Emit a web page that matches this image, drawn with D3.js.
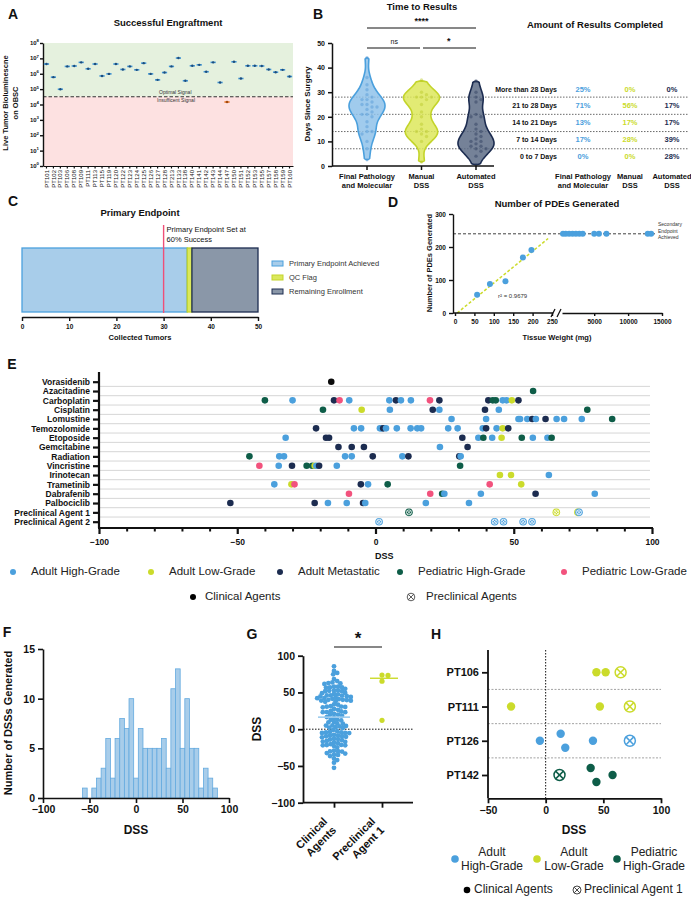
<!DOCTYPE html>
<html>
<head>
<meta charset="utf-8">
<script src="https://cdn.jsdelivr.net/npm/d3@7"></script>
<style>
  body { margin: 0; background: #fff; }
  svg { display: block; font-family: "Liberation Sans", Arial, Helvetica, sans-serif; }
</style>
</head>
<body>
<div id="chart"></div>
<script>
// ---------- data ----------
// A - engraftment
const engraftIds = ["PT101","PT102","PT103","PT106","PT108","PT109","PT111","PT113","PT115","PT119","PT120","PT122","PT123","PT124","PT125","PT126","PT127","PT128","PT213","PT133","PT138","PT140","PT141","PT142","PT143","PT144","PT147","PT150","PT151","PT152","PT153","PT155","PT157","PT158","PT159","PT160"];
const engraftSignal = [4.3e6,6.0e5,9.8e4,3.0e6,3.2e6,5.5e6,2.1e6,4.3e6,7.2e5,9.8e5,4.3e6,1.9e6,3.0e6,1.8e6,4.9e6,9.8e5,4.0e5,1.2e6,3.0e6,1.05e7,3.5e5,3.3e6,3.8e6,1.35e6,5.5e6,2.7e5,1.45e4,6.0e6,4.9e5,3.3e6,3.3e6,3.2e6,1.9e6,1.26e6,1.8e6,6.6e5];
const signalCutoff = 3.2e4;
const engraftTicks = [1, 10, 100, 1e3, 1e4, 1e5, 1e6, 1e7, 1e8];

// B - time to results
const timeGroups = [["Final Pathology", "and Molecular"], ["Manual", "DSS"], ["Automated", "DSS"]];
const daysPath = [2.5, 7, 10, 13, 14, 14, 16, 18, 20, 21, 21, 22, 23, 24, 24, 25, 25, 26, 27, 27, 28, 29, 31, 33, 36, 44];
const daysManual = [1.6, 10, 12, 13, 14, 14, 15, 17, 20, 22, 25, 27, 28, 28, 28, 29, 30, 35];
const daysAuto = [0.5, 4, 6, 7, 7, 8, 8, 9, 10, 10, 11, 12, 13, 14, 15, 17, 20, 20, 21, 26, 27, 28, 30, 34.6];
const dayCutoffs = [7, 14, 21, 28];
const dayTicks = [0, 10, 20, 30, 40, 50];
const rangeLabels = ["More than 28 Days", "21 to 28 Days", "14 to 21 Days", "7 to 14 Days", "0 to 7 Days"];
const rangeMid = [31, 24.5, 17.5, 10.5, 3.5];
const pctPath = ["25%", "71%", "13%", "17%", "0%"];
const pctManual = ["0%", "56%", "17%", "28%", "0%"];
const pctAuto = ["0%", "17%", "17%", "39%", "28%"];

// C - primary endpoint
const enrollLabels = ["Primary Endpoint Achieved", "QC Flag", "Remaining Enrollment"];
const enrollCounts = [35, 1, 14];
const enrollTicks = [0, 10, 20, 30, 40, 50];
const primaryTarget = 30;

// D - PDEs generated
const pdeWeightLow = [57, 90, 130, 175, 197];
const pdeCountLow = [55, 88, 96, 168, 191];
const pdeWeightHigh = [400, 800, 1300, 1800, 2300, 2800, 3300, 5000, 5700, 6800, 12900, 13400];
const pdeCountHigh = [240, 240, 240, 240, 240, 240, 240, 240, 240, 240, 240, 240];
const pdeTarget = 240;
const pdeTicksLow = [0, 50, 100, 150, 200, 250];
const pdeTicksHigh = [5000, 10000, 15000];
const pdeTicksY = [0, 100, 200, 300];

// E - DSS per drug
const drugNames = ["Vorasidenib","Azacitadine","Carboplatin","Cisplatin","Lomustine","Temozolomide","Etoposide","Gemcitabine","Radiation","Vincristine","Irinotecan","Trametinib","Dabrafenib","Palbociclib","Preclinical Agent 1","Preclinical Agent 2"];
const preclinicalDrugs = ["Preclinical Agent 1", "Preclinical Agent 2"];
const drugDss = [
  [-16],
  [57],
  [-40, -30, -15, -13, -9.5, 5, 7.4, 9.2, 12.8, 19.7, 23.1, 40.8, 42.4, 43.5, 46, 47.4, 49.3, 51.7],
  [-19, -5, 5.2, 20.7, 23.1, 39.6, 44.6, 76.6],
  [27.5, 40, 51.7, 52.3, 54.9, 56.7, 58, 61.5, 65.5, 68.2, 74.6, 85.6],
  [-21.5, -7.8, -5.2, 1.6, 2.2, 2.8, 3.8, 7.7, 12.7, 15.1, 16.5, 26.3, 29.7, 38.8, 40, 43.8, 46, 48],
  [-32.5, -17.9, -16.8, 31.4, 37.2, 39, 42.2, 45.6, 52.9, 56.9, 62.2, 63.7],
  [-13.4, -8.6, -4.2, 23.3, 33.3],
  [-45.6, -34.8, -33.1, -11, -8.6, -1, 9.7, 11.9, 30.3, 30.8],
  [-42, -35, -30.2, -24.9, -22.9, -22, -21.4, -20.4, -14, 30.6],
  [45, 49, 62.7],
  [-36.6, -30.4, -29.3, -5.3, -2.7, 4.4, 41.3, 52.7],
  [-9.6, 19.8, 24.1, 24.9, 38.1, 57.9, 79.3],
  [-52.5, -22, -17.2, -10.4, -4.5, -3.7, 18.2, 33.8],
  [12.1, 65.4, 73.2, 73.6],
  [1.3, 43.1, 46.3, 53.4, 56.6]
];
const drugGroup = [
  ["BLK"],
  ["PHG"],
  ["PHG","AHG","AM","PLG","AHG","AHG","AM","AHG","AHG","PLG","AM","AM","PHG","PHG","AHG","AHG","ALG","AM"],
  ["PHG","ALG","AHG","AM","AHG","AM","AHG","PHG"],
  ["AHG","AHG","AHG","AHG","AHG","AM","AHG","AM","AHG","AHG","AHG","PHG"],
  ["AM","AHG","AHG","AHG","AHG","AM","AHG","AHG","AHG","AHG","AHG","AHG","AHG","AHG","AM","AHG","ALG","AM"],
  ["AHG","AM","AM","AM","AHG","PHG","AHG","ALG","PHG","AHG","AHG","PHG"],
  ["AM","AM","AM","AHG","AM"],
  ["PHG","AHG","AHG","AHG","AHG","AM","AHG","AM","AM","AHG"],
  ["PLG","AHG","AM","PHG","PHG","ALG","AHG","AM","AHG","PHG"],
  ["ALG","ALG","AHG"],
  ["AHG","ALG","PLG","AM","AHG","PHG","PLG","ALG"],
  ["PLG","PLG","PHG","AHG","AHG","AM","AHG"],
  ["AM","AM","AHG","AHG","AM","AHG","AHG","AHG"],
  ["PHG","ALG","ALG","AHG"],
  ["AHG","AHG","AHG","AHG","AHG"]
];
const eMajorTicks = [-100, -50, 0, 50, 100];
const groupKeys = ["AHG", "ALG", "AM", "PHG", "PLG"];
const groupNames = ["Adult High-Grade", "Adult Low-Grade", "Adult Metastatic", "Pediatric High-Grade", "Pediatric Low-Grade"];

// F - histogram of DSS (bin centre, count)
const histCenters = [-55,-45,-40,-35,-30,-25,-20,-15,-10,-5,0,5,10,15,20,25,30,35,40,45,50,55,60,65,70,75,80,85];
const histCounts = [1,1,2,3,6,2,6,8,7,10,2,7,5,5,5,5,6,3,11,13,5,10,5,5,1,3,2,1];
const histTicksX = [-100, -50, 0, 50, 100];
const histTicksY = [0, 5, 10, 15];

// G
const gCategories = [["Clinical", "Agents"], ["Preclinical", "Agent 1"]];
const gTicks = [-100, -50, 0, 50, 100];

// H - patient level
const hPatients = ["PT106", "PT111", "PT126", "PT142"];
const hGroups = ["ALG", "ALG", "AHG", "PHG"];
const hValues = [[44, 52, 65], [-30, 47, 73], [-5, 13, 17, 41, 73], [12, 39, 44, 58]];
const hAgent = [["C","C","P"], ["C","C","P"], ["C","C","C","C","P"], ["P","C","C","C"]];
const hTicks = [-50, 0, 50, 100];
const hLegendKeys = ["AHG", "ALG", "PHG"];
const hLegendNames = [["Adult", "High-Grade"], ["Adult", "Low-Grade"], ["Pediatric", "High-Grade"]];

// ---------- colours ----------
const groupColor = { AHG: "#4ba0dd", ALG: "#cbdb2b", AM: "#1c2c50", PHG: "#0e5d48", PLG: "#f2527d", BLK: "#0a0a0a" };
const ink = "#111";

// ---------- svg ----------
const svg = d3.select("#chart").append("svg").attr("width", 691).attr("height", 899);
svg.append("rect").attr("width", 691).attr("height", 899).attr("fill", "#fff");

function addText(x, y, s, o = {}) {
  return svg.append("text")
    .attr("x", x).attr("y", y)
    .attr("font-size", o.size || 8)
    .attr("font-weight", o.weight || "bold")
    .attr("text-anchor", o.anchor || "start")
    .attr("dominant-baseline", "middle")
    .attr("fill", o.fill || ink)
    .text(s);
}

function addLines(x, y, lines, lh, o = {}) {
  const t = svg.append("text")
    .attr("font-size", o.size || 8)
    .attr("font-weight", o.weight || "bold")
    .attr("text-anchor", o.anchor || "middle")
    .attr("fill", o.fill || ink)
    .attr("transform", `translate(${x},${y})` + (o.rotate ? ` rotate(${o.rotate})` : ""));
  lines.forEach((l, i) => t.append("tspan").attr("x", 0).attr("y", i * lh).text(l));
  return t;
}

function styleAxis(g, fs, sw) {
  g.attr("font-family", null).attr("font-size", fs);
  g.select(".domain").attr("stroke", ink).attr("stroke-width", sw);
  g.selectAll(".tick line").attr("stroke", ink).attr("stroke-width", sw);
  g.selectAll(".tick text").attr("font-weight", "bold").attr("fill", ink);
  return g;
}

function xMark(g, r, color, w) {
  const k = r * 0.7;
  g.append("line").attr("x1", -k).attr("y1", -k).attr("x2", k).attr("y2", k).attr("stroke", color).attr("stroke-width", w);
  g.append("line").attr("x1", -k).attr("y1", k).attr("x2", k).attr("y2", -k).attr("stroke", color).attr("stroke-width", w);
}

// panel letters
[["A", 13, 15], ["B", 318, 15], ["C", 13, 202], ["D", 393, 203], ["E", 12, 365], ["F", 7, 633], ["G", 252, 635], ["H", 436, 635]]
  .forEach(([l, x, y]) => addText(x, y, l, { size: 14, anchor: "middle" }));

// ================= A =================
const ax = d3.scaleBand().domain(engraftIds).range([43, 293]);
const ay = d3.scaleLog().domain([1, 1e8]).range([166, 43]);

svg.append("rect").attr("x", 43).attr("y", ay(1e8)).attr("width", 250)
  .attr("height", ay(signalCutoff) - ay(1e8)).attr("fill", "#e5f1de");
svg.append("rect").attr("x", 43).attr("y", ay(signalCutoff)).attr("width", 250)
  .attr("height", ay(1) - ay(signalCutoff)).attr("fill", "#fde1e1");
svg.append("line").attr("x1", 43).attr("x2", 293).attr("y1", ay(signalCutoff)).attr("y2", ay(signalCutoff))
  .attr("stroke", "#333").attr("stroke-width", 1.1).attr("stroke-dasharray", "3.5,2");
addText(159, ay(signalCutoff) - 4.5, "Optimal Signal", { size: 5, weight: "normal", fill: "#333" });
addText(157, ay(signalCutoff) + 4, "Insufficent Signal", { size: 5, weight: "normal", fill: "#333" });

styleAxis(svg.append("g").attr("transform", "translate(43,0)")
  .call(d3.axisLeft(ay).tickValues(engraftTicks).tickFormat("").tickSize(3).tickSizeOuter(0)), 6, 1.4);
engraftTicks.forEach(t => {
  const tx = svg.append("text").attr("x", 39).attr("y", ay(t) + 2).attr("text-anchor", "end")
    .attr("font-size", 6).attr("font-weight", "bold").attr("fill", ink);
  tx.append("tspan").text("10");
  tx.append("tspan").attr("font-size", 4.3).attr("dy", -2.6).text(Math.round(Math.log10(t)));
});
const axB = styleAxis(svg.append("g").attr("transform", "translate(0,166)")
  .call(d3.axisBottom(ax).tickSize(2.5).tickSizeOuter(0)), 6, 1.2);
axB.selectAll(".tick text").attr("font-weight", "normal")
  .attr("transform", "rotate(-90)").attr("x", -4).attr("y", 0).attr("dy", "0.35em").attr("text-anchor", "end");
addLines(8, 103, ["Live Tumor Bioluminescne", "on OBSC"], 9.5, { size: 7.5, rotate: -90 });
addText(168, 23, "Successful Engraftment", { size: 9.5, anchor: "middle" });

svg.append("g").selectAll("g").data(engraftIds).join("g")
  .attr("transform", (d, i) => `translate(${ax(d) + ax.bandwidth() / 2},${ay(engraftSignal[i])})`)
  .each(function (d, i) {
    const g = d3.select(this);
    const low = engraftSignal[i] < signalCutoff;
    g.append("line").attr("x1", -2.6).attr("x2", 2.6).attr("stroke", low ? "#e8782c" : "#3f93d3").attr("stroke-width", 1.6);
    g.append("circle").attr("r", 1.2).attr("fill", low ? "#a04a10" : "#1d4d7c");
  });

// ================= B =================
const bx = d3.scalePoint().domain([0, 1, 2]).range([367, 476]);
const by = d3.scaleLinear().domain([0, 50]).range([166, 43]);

dayCutoffs.forEach(c => {
  svg.append("line").attr("x1", 332).attr("x2", 688).attr("y1", by(c)).attr("y2", by(c))
    .attr("stroke", "#444").attr("stroke-width", 0.8).attr("stroke-dasharray", "1.5,1.5");
});

function kde(values, bw) {
  const lo = d3.min(values), hi = d3.max(values), pts = [];
  for (let v = lo; v <= hi + 0.01; v += 0.5) {
    pts.push([v, d3.mean(values, x => Math.exp(-0.5 * ((v - x) / bw) ** 2))]);
  }
  pts[0][1] = 0; pts[pts.length - 1][1] = 0;
  return pts;
}
function swarm(values, scale, r, step) {
  const pts = values.map(v => ({ v, y: scale(v), x: 0 })).sort((a, b) => a.y - b.y);
  const placed = [];
  pts.forEach(p => {
    for (let k = 0; k < 400; k++) {
      const off = k === 0 ? 0 : (k % 2 ? 1 : -1) * Math.ceil(k / 2) * step;
      if (placed.every(q => (q.x - off) ** 2 + (q.y - p.y) ** 2 >= (2 * r) ** 2)) { p.x = off; break; }
    }
    placed.push(p);
  });
  return pts;
}

const violinSets = [daysPath, daysManual, daysAuto];
const violinFill = ["#8fc2ea", "#dde75c", "#5d6c86"];
const violinStroke = ["#4ba0dd", "#c3d42a", "#1c2c50"];
const violinDot = ["#4f97d4", "#b9c82a", "#2a3a5a"];
violinSets.forEach((vals, i) => {
  const dens = kde(vals, 3);
  const m = d3.max(dens, d => d[1]);
  const w = d3.scaleLinear().domain([0, m]).range([0, 18]);
  const area = d3.area().curve(d3.curveCatmullRom)
    .y(d => by(d[0])).x0(d => bx(i) - w(d[1])).x1(d => bx(i) + w(d[1]));
  svg.append("path").attr("d", area(dens)).attr("fill", violinFill[i]).attr("fill-opacity", 0.85)
    .attr("stroke", violinStroke[i]).attr("stroke-width", 1.6);
  svg.append("g").selectAll("circle").data(swarm(vals, by, 2, 2.5)).join("circle")
    .attr("cx", d => bx(i) + d.x).attr("cy", d => d.y).attr("r", 1.7)
    .attr("fill", violinDot[i]).attr("fill-opacity", 0.45);
});

styleAxis(svg.append("g").attr("transform", "translate(332,0)")
  .call(d3.axisLeft(by).tickValues(dayTicks).tickSize(4).tickSizeOuter(0)), 7, 1.5);
svg.append("line").attr("x1", 332).attr("x2", 494).attr("y1", 166).attr("y2", 166).attr("stroke", ink).attr("stroke-width", 1.5);
[0, 1, 2].forEach(i => {
  svg.append("line").attr("x1", bx(i)).attr("x2", bx(i)).attr("y1", 166).attr("y2", 170).attr("stroke", ink).attr("stroke-width", 1.5);
  addLines(bx(i), 179, timeGroups[i], 8.5, { size: 7.5 });
});
addText(308, 104, "Days Since Surgery", { size: 8, anchor: "middle" }).attr("transform", "rotate(-90,308,104)");
addText(422, 7, "Time to Results", { size: 9.5, anchor: "middle" });

[[0, 2, "****", 28], [0, 1, "ns", 48], [1, 2, "*", 48]].forEach(([a, b, s, y]) => {
  svg.append("line").attr("x1", bx(a) + (a ? 1.5 : 0)).attr("x2", bx(b) - (b === 1 ? 1.5 : 0))
    .attr("y1", y).attr("y2", y).attr("stroke", ink).attr("stroke-width", 1);
  addText((bx(a) + bx(b)) / 2, y - 6, s, { size: s === "ns" ? 7 : 9, weight: s === "ns" ? "normal" : "bold", anchor: "middle" });
});

addText(595, 25, "Amount of Results Completed", { size: 9.5, anchor: "middle" });
const colX = [583, 630, 672];
const colPct = [pctPath, pctManual, pctAuto];
const colColor = [groupColor.AHG, groupColor.ALG, groupColor.AM];
rangeLabels.forEach((l, r) => {
  addText(557, by(rangeMid[r]), l, { size: 7, anchor: "end" });
  colPct.forEach((p, c) => addText(colX[c], by(rangeMid[r]), p[r], { size: 7.5, anchor: "middle", fill: colColor[c] }));
});
timeGroups.forEach((g, c) => addLines(colX[c], 179, g, 8.5, { size: 7.5 }));

// ================= C =================
const cxs = d3.scaleLinear().domain([0, 50]).range([22, 258]);
const enrollStart = [0, ...d3.cumsum(enrollCounts)];
const enrollFill = ["#a8cdea", "#dbe85c", "#8a97a8"];
const enrollStroke = ["#4ba0dd", "#c3d42a", "#1c2c50"];
addText(140, 213, "Primary Endpoint", { size: 9.5, anchor: "middle" });
svg.append("g").selectAll("rect").data(enrollCounts).join("rect")
  .attr("x", (d, i) => cxs(enrollStart[i])).attr("width", d => cxs(d) - cxs(0))
  .attr("y", 248).attr("height", 64)
  .attr("fill", (d, i) => enrollFill[i]).attr("stroke", (d, i) => enrollStroke[i]).attr("stroke-width", 1.3);
svg.append("line").attr("x1", cxs(primaryTarget)).attr("x2", cxs(primaryTarget)).attr("y1", 225).attr("y2", 313)
  .attr("stroke", "#ef4f78").attr("stroke-width", 1.4);
addText(cxs(primaryTarget) + 3, 230, "Primary Endpoint Set at", { size: 7.5, weight: "normal" });
addText(cxs(primaryTarget) + 3, 240, "60% Success", { size: 7.5, weight: "normal" });
styleAxis(svg.append("g").attr("transform", "translate(0,317)")
  .call(d3.axisBottom(cxs).tickValues(enrollTicks).tickSize(4).tickSizeOuter(0)), 6.5, 1.4);
addText(140, 338, "Collected Tumors", { size: 7.5, anchor: "middle" });
enrollLabels.forEach((l, i) => {
  svg.append("rect").attr("x", 272).attr("y", 261 + i * 14).attr("width", 11).attr("height", 5)
    .attr("fill", enrollFill[i]).attr("stroke", enrollStroke[i]).attr("stroke-width", 1);
  addText(289, 264 + i * 14, l, { size: 7.5, weight: "normal", fill: "#333" });
});

// ================= D =================
const dY = d3.scaleLinear().domain([0, 300]).range([313, 214]);
const dLow = d3.scaleLinear().domain([0, 250]).range([455, 552]);
const dHigh = d3.scaleLinear().domain([250, 15000]).range([562, 662]);
addText(557, 204, "Number of PDEs Generated", { size: 9.5, anchor: "middle" });
svg.append("line").attr("x1", 453).attr("x2", 655).attr("y1", dY(pdeTarget)).attr("y2", dY(pdeTarget))
  .attr("stroke", ink).attr("stroke-width", 0.8).attr("stroke-dasharray", "3,2");
addLines(658, 226, ["Secondary", "Endpoint", "Achieved"], 6.5, { size: 5, weight: "normal", anchor: "start", fill: "#333" });

const fitX = d3.mean(pdeWeightLow), fitY = d3.mean(pdeCountLow);
const slope = d3.sum(pdeWeightLow, (w, i) => (w - fitX) * (pdeCountLow[i] - fitY)) / d3.sum(pdeWeightLow, w => (w - fitX) ** 2);
const icpt = fitY - slope * fitX;
svg.append("line").attr("x1", dLow(-icpt / slope)).attr("y1", dY(0))
  .attr("x2", dLow(240)).attr("y2", dY(icpt + slope * 240))
  .attr("stroke", "#cbdb2b").attr("stroke-width", 1.5).attr("stroke-dasharray", "3,2");
addText(498, 296, "r² = 0.9679", { size: 6, weight: "normal", fill: "#333" });

svg.append("g").selectAll("circle").data(pdeWeightLow).join("circle")
  .attr("cx", d => dLow(d)).attr("cy", (d, i) => dY(pdeCountLow[i])).attr("r", 3).attr("fill", groupColor.AHG);
svg.append("g").selectAll("circle").data(pdeWeightHigh).join("circle")
  .attr("cx", d => dHigh(d)).attr("cy", (d, i) => dY(pdeCountHigh[i])).attr("r", 3).attr("fill", groupColor.AHG);

styleAxis(svg.append("g").attr("transform", "translate(453,0)")
  .call(d3.axisLeft(dY).tickValues(pdeTicksY).tickSize(4).tickSizeOuter(0)), 6.5, 1.4);
styleAxis(svg.append("g").attr("transform", "translate(0,313)")
  .call(d3.axisBottom(dLow).tickValues(pdeTicksLow).tickSize(3).tickSizeOuter(0)), 6.5, 1.4)
  .select(".domain").attr("d", "M453,0H553");
styleAxis(svg.append("g").attr("transform", "translate(0,313)")
  .call(d3.axisBottom(dHigh).tickValues(pdeTicksHigh).tickFormat(d3.format("d")).tickSize(3).tickSizeOuter(0)), 6.5, 1.4);
[[551, 557], [557, 563]].forEach(([a, b]) => {
  svg.append("line").attr("x1", a).attr("y1", 317).attr("x2", b - 2).attr("y2", 309).attr("stroke", ink).attr("stroke-width", 1.2);
});
addText(557, 338, "Tissue Weight (mg)", { size: 7.5, anchor: "middle" });
addText(430, 263, "Number of PDEs Generated", { size: 7.5, anchor: "middle" }).attr("transform", "rotate(-90,430,263)");

// ================= E =================
const ex = d3.scaleLinear().domain([-100, 100]).range([99, 652]);
const ey = d3.scalePoint().domain(drugNames).range([381.7, 521.7]);
const rowGap = ey.step() / 2;
drugNames.slice(0, -1).forEach(d => {
  svg.append("line").attr("x1", 99).attr("x2", 650).attr("y1", ey(d) + rowGap).attr("y2", ey(d) + rowGap)
    .attr("stroke", "#d6d6d6").attr("stroke-width", 1);
});
const eyAxis = styleAxis(svg.append("g").attr("transform", "translate(99,0)")
  .call(d3.axisLeft(ey).tickSize(6).tickSizeOuter(0).tickPadding(3)), 8.5, 2.2);
eyAxis.select(".domain").attr("d", "M0,372V528");
const exAxis = styleAxis(svg.append("g").attr("transform", "translate(0,528)")
  .call(d3.axisBottom(ex).tickValues(eMajorTicks).tickSize(6).tickSizeOuter(0).tickPadding(5)), 8.5, 2.2);
exAxis.select(".domain").attr("d", "M98,0H653");
svg.append("g").attr("transform", "translate(0,528)")
  .call(d3.axisBottom(ex).tickValues(d3.range(-90, 100, 10).filter(v => v % 50 !== 0)).tickSize(3.5).tickFormat(""))
  .call(g => g.select(".domain").remove())
  .selectAll(".tick line").attr("stroke", ink).attr("stroke-width", 2);
addText(375, 557, "DSS", { size: 9 });

drugNames.forEach((drug, r) => {
  const pre = preclinicalDrugs.includes(drug);
  drugDss[r].forEach((v, k) => {
    const g = svg.append("g").attr("transform", `translate(${ex(v)},${ey(drug)})`);
    const col = groupColor[drugGroup[r][k]];
    g.append("circle").attr("r", pre ? 3.8 : 3.3).attr("fill", col);
    if (pre) {
      g.append("circle").attr("r", 2.5).attr("fill", "none").attr("stroke", "#fff").attr("stroke-width", 0.8);
      xMark(g, 2.5, "#fff", 0.8);
    }
  });
});

const legendX = [13, 151, 280, 400, 564];
groupKeys.forEach((k, i) => {
  svg.append("circle").attr("cx", legendX[i]).attr("cy", 572).attr("r", 3).attr("fill", groupColor[k]);
  addText(legendX[i] + 18, 572, groupNames[i], { size: 11.5, weight: "normal", fill: "#222" });
});
svg.append("circle").attr("cx", 193).attr("cy", 597).attr("r", 3).attr("fill", "#000");
addText(205, 597, "Clinical Agents", { size: 11.5, weight: "normal", fill: "#222" });
const preLeg = svg.append("g").attr("transform", "translate(411,597)");
preLeg.append("circle").attr("r", 3.8).attr("fill", "none").attr("stroke", "#333").attr("stroke-width", 0.8);
xMark(preLeg, 3.8, "#333", 0.8);
addText(426, 597, "Preclinical Agents", { size: 11.5, weight: "normal", fill: "#222" });

// ================= F =================
const fx = d3.scaleLinear().domain([-100, 100]).range([43, 229]);
const fy = d3.scaleLinear().domain([0, 15]).range([798, 649]);
svg.append("g").selectAll("rect").data(histCenters).join("rect")
  .attr("x", d => fx(d - 2.5)).attr("width", fx(5) - fx(0))
  .attr("y", (d, i) => fy(histCounts[i])).attr("height", (d, i) => fy(0) - fy(histCounts[i]))
  .attr("fill", "#a8cdea").attr("stroke", "#64aadf").attr("stroke-width", 0.8);
styleAxis(svg.append("g").attr("transform", "translate(43,0)")
  .call(d3.axisLeft(fy).tickValues(histTicksY).tickSize(5).tickSizeOuter(0)), 10.5, 1.6);
styleAxis(svg.append("g").attr("transform", "translate(0,798)")
  .call(d3.axisBottom(fx).tickValues(histTicksX).tickSize(5).tickSizeOuter(0)), 10.5, 1.6);
addText(136, 831, "DSS", { size: 12, anchor: "middle" });
addText(9, 723, "Number of DSSs Generated", { size: 11, anchor: "middle" }).attr("transform", "rotate(-90,9,723)");

// ================= G =================
const gy = d3.scaleLinear().domain([-100, 100]).range([802.7, 655.7]);
const gx = d3.scalePoint().domain([0, 1]).range([334, 382]);
const clinicalDss = drugNames.flatMap((d, r) => preclinicalDrugs.includes(d) ? [] : drugDss[r]);
const preclinical1 = drugDss[drugNames.indexOf("Preclinical Agent 1")];
svg.append("line").attr("x1", 303).attr("x2", 413).attr("y1", gy(0)).attr("y2", gy(0))
  .attr("stroke", ink).attr("stroke-width", 1).attr("stroke-dasharray", "1.5,1.5");
svg.append("g").selectAll("circle").data(swarm(clinicalDss, gy, 1.75, 0.8)).join("circle")
  .attr("cx", d => gx(0) + d.x).attr("cy", d => d.y).attr("r", 2.4).attr("fill", groupColor.AHG);
svg.append("line").attr("x1", 318).attr("x2", 350).attr("y1", gy(d3.mean(clinicalDss))).attr("y2", gy(d3.mean(clinicalDss)))
  .attr("stroke", "#9ccbee").attr("stroke-width", 1.6);
svg.append("g").selectAll("circle").data(swarm(preclinical1, gy, 2.6, 1)).join("circle")
  .attr("cx", d => gx(1) + d.x).attr("cy", d => d.y).attr("r", 2.6).attr("fill", groupColor.ALG);
svg.append("line").attr("x1", 370).attr("x2", 398).attr("y1", gy(d3.median(preclinical1))).attr("y2", gy(d3.median(preclinical1)))
  .attr("stroke", groupColor.ALG).attr("stroke-width", 1.4);
styleAxis(svg.append("g").attr("transform", "translate(303,0)")
  .call(d3.axisLeft(gy).tickValues(gTicks).tickSize(5).tickSizeOuter(0)), 10.5, 1.8);
const gxAxis = styleAxis(svg.append("g").attr("transform", "translate(0,802.7)")
  .call(d3.axisBottom(gx).tickSize(5).tickSizeOuter(0).tickFormat("")), 10, 1.8);
gxAxis.select(".domain").attr("d", "M303,0H413");
gCategories.forEach((c, i) => addLines(gx(i) - 6, 822, c, 12.5, { size: 11, anchor: "end", rotate: -45 }));
addText(258, 729, "DSS", { size: 12, anchor: "middle" }).attr("transform", "rotate(-90,258,729)");
svg.append("line").attr("x1", gx(0)).attr("x2", gx(1)).attr("y1", 647).attr("y2", 647).attr("stroke", ink).attr("stroke-width", 1.2);
addText((gx(0) + gx(1)) / 2, 640, "*", { size: 17, anchor: "middle" });

// ================= H =================
const hx = d3.scaleLinear().domain([-50, 100]).range([488, 661]);
const hy = d3.scalePoint().domain(hPatients).range([672.3, 775]);
hPatients.slice(0, -1).forEach((p, i) => {
  const y = (hy(p) + hy(hPatients[i + 1])) / 2;
  svg.append("line").attr("x1", 488).attr("x2", 661).attr("y1", y).attr("y2", y)
    .attr("stroke", "#999").attr("stroke-width", 0.9).attr("stroke-dasharray", "2,1.5");
});
svg.append("line").attr("x1", hx(0)).attr("x2", hx(0)).attr("y1", 650).attr("y2", 798)
  .attr("stroke", ink).attr("stroke-width", 1).attr("stroke-dasharray", "1.5,1.5");

hPatients.forEach((p, r) => {
  const col = groupColor[hGroups[r]];
  const order = d3.range(hValues[r].length).sort((a, b) => hValues[r][a] - hValues[r][b]);
  const offs = new Array(hValues[r].length).fill(0);
  let cluster = [order[0]];
  const flush = () => { if (cluster.length === 2) { offs[cluster[0]] = -7; offs[cluster[1]] = 7; } };
  for (let k = 1; k < order.length; k++) {
    const prev = order[k - 1], cur = order[k];
    if (hx(hValues[r][cur]) - hx(hValues[r][prev]) < 9) cluster.push(cur);
    else { flush(); cluster = [cur]; }
  }
  flush();
  hValues[r].forEach((v, k) => {
    const g = svg.append("g").attr("transform", `translate(${hx(v)},${hy(p) + offs[k]})`);
    if (hAgent[r][k] === "P") {
      g.append("circle").attr("r", 5.5).attr("fill", "#fff").attr("stroke", col).attr("stroke-width", 1.5);
      xMark(g, 5.2, col, 1.5);
    } else {
      g.append("circle").attr("r", 4.2).attr("fill", col);
    }
  });
});
styleAxis(svg.append("g").attr("transform", "translate(488,0)")
  .call(d3.axisLeft(hy).tickSize(6).tickSizeOuter(0).tickPadding(3)), 11, 1.8)
  .select(".domain").attr("d", "M0,650V798.3");
styleAxis(svg.append("g").attr("transform", "translate(0,798.3)")
  .call(d3.axisBottom(hx).tickValues(hTicks).tickSize(5).tickSizeOuter(0)), 10.5, 1.8);
addText(574, 831, "DSS", { size: 12, anchor: "middle" });

const hLegX = [455, 537, 617];
const hLegTextX = [492, 574, 654];
hLegendKeys.forEach((k, i) => {
  svg.append("circle").attr("cx", hLegX[i]).attr("cy", 859).attr("r", 3.8).attr("fill", groupColor[k]);
  addLines(hLegTextX[i], 856, hLegendNames[i], 14, { size: 12, weight: "normal", fill: "#222" });
});
svg.append("circle").attr("cx", 467).attr("cy", 890).attr("r", 3.3).attr("fill", "#000");
addText(474, 890, "Clinical Agents", { size: 12, weight: "normal", fill: "#222" });
const hPre = svg.append("g").attr("transform", "translate(577,890)");
hPre.append("circle").attr("r", 4).attr("fill", "none").attr("stroke", "#333").attr("stroke-width", 0.9);
xMark(hPre, 4, "#333", 0.9);
addText(584, 890, "Preclinical Agent 1", { size: 12, weight: "normal", fill: "#222" });
</script>
</body>
</html>
